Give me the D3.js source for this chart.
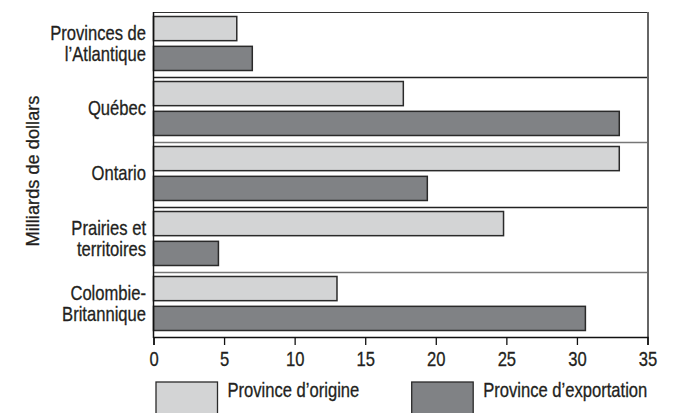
<!DOCTYPE html>
<html><head><meta charset="utf-8">
<script src="https://cdn.jsdelivr.net/npm/d3@7"></script>
<style>
body{margin:0;background:#fff;}
text{font-family:"Liberation Sans",Arial,sans-serif;fill:#231f20;stroke:#231f20;stroke-width:0.3px;}
</style></head>
<body><svg id="c" width="673" height="413"></svg>
<script>
const categories = [["Provinces de","l’Atlantique"],["Québec"],["Ontario"],["Prairies et","territoires"],["Colombie-","Britannique"]];
const seriesNames = ["Province d’origine","Province d’exportation"];
const origine = [5.9, 17.7, 33.0, 24.8, 13.0];
const exportation = [7.0, 33.0, 19.4, 4.6, 30.6];
const xTicks = [0,5,10,15,20,25,30,35];
const yTitle = "Milliards de dollars";
const colors = ["#d3d4d5","#808285"];

const SX = 0.83;
const svg = d3.select("#c");
const L = 153.5, R = 647.5, T = 12, B = 337;
const x = d3.scaleLinear().domain([0,35]).range([L,R]);
const y = d3.scaleBand().domain(d3.range(categories.length)).range([T,B]).padding(0);
const sub = d3.scaleBand().domain([0,1]).range([4.5, y.bandwidth()-6.5]).paddingInner(0.19);

const g = svg.append("g");
g.selectAll("line.sep").data(d3.range(1,categories.length)).join("line")
  .attr("x1",L).attr("x2",R).attr("y1",i=>y(i)+0.5).attr("y2",i=>y(i)+0.5)
  .attr("stroke",(d,i)=>i%2===0?"#222":"#777").attr("stroke-width",1.3);
g.append("line").attr("x1",L).attr("x2",R+1).attr("y1",T+0.5).attr("y2",T+0.5).attr("stroke","#333").attr("stroke-width",1.2);
g.append("line").attr("x1",R+0.5).attr("x2",R+0.5).attr("y1",T).attr("y2",B).attr("stroke","#666").attr("stroke-width",2);

const series = [origine, exportation];
series.forEach((vals,s)=>{
  g.selectAll("rect.s"+s).data(vals).join("rect")
    .attr("x",x(0)).attr("y",(d,i)=>y(i)+sub(s))
    .attr("width",d=>x(d)-x(0)).attr("height",sub.bandwidth())
    .attr("fill",colors[s]).attr("stroke","#2a2a2a").attr("stroke-width",1.5);
});

// x axis
const xa = svg.append("g").attr("transform",`translate(0,${B})`)
  .call(d3.axisBottom(x).tickValues(xTicks).tickSize(8).tickFormat(d3.format("d")));
xa.select(".domain").attr("stroke","#111").attr("stroke-width",1.5);
xa.selectAll(".tick line").attr("stroke","#111").attr("stroke-width",1.3);
xa.selectAll(".tick text").attr("font-size","20px").attr("font-family","Liberation Sans")
  .attr("fill","#231f20").attr("y",29).attr("dy",0).attr("transform",`scale(${SX},1)`);

svg.append("line").attr("x1",L).attr("x2",L).attr("y1",T).attr("y2",B+1).attr("stroke","#111").attr("stroke-width",1.5);

// category labels
categories.forEach((lines,i)=>{
  const cy = y(i)+y.bandwidth()/2 - 1.5;
  const t = svg.append("text").attr("text-anchor","end").attr("font-size","20px")
    .attr("transform",`translate(146,${cy}) scale(${SX},1)`);
  const lh = 21;
  lines.forEach((ln,k)=>{
    t.append("tspan").attr("x",0).attr("y",(k-(lines.length-1)/2)*lh + 7).text(ln);
  });
});

// y title
svg.append("text").attr("transform","translate(39,171) rotate(-90) scale(0.96,1)").attr("text-anchor","middle")
  .attr("font-size","19px").text(yTitle);

// legend
const legX = [156, 411.7];
seriesNames.forEach((n,s)=>{
  svg.append("rect").attr("x",legX[s]).attr("y",382).attr("width",61.5).attr("height",40)
    .attr("fill",colors[s]).attr("stroke","#2a2a2a").attr("stroke-width",1.3);
  svg.append("text").attr("transform",`translate(${legX[s]+71.5},397) scale(${SX},1)`)
    .attr("font-size","20px").text(n);
});
</script></body></html>
